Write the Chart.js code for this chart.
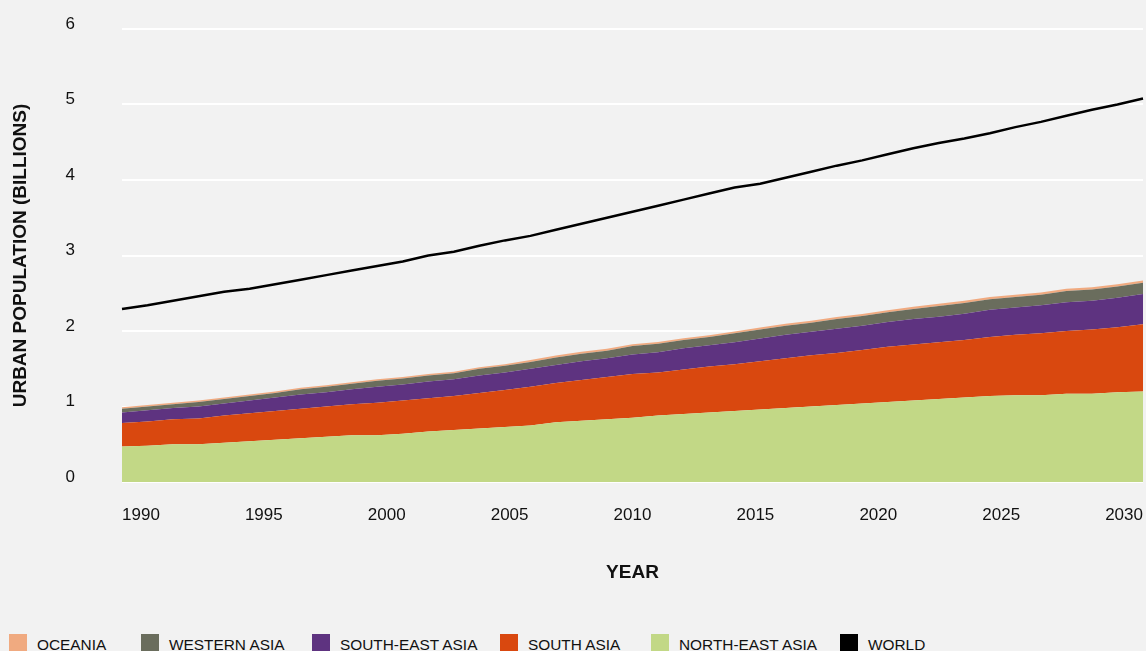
<!DOCTYPE html>
<html>
<head>
<meta charset="utf-8">
<script src="https://cdn.jsdelivr.net/npm/chart.js@4.4.1/dist/chart.umd.min.js"></script>
<style>
html,body{margin:0;padding:0;background:#f2f2f2;width:1146px;height:651px;overflow:hidden;font-family:"Liberation Sans",Arial,Helvetica,sans-serif;}
#wrap{position:absolute;left:0;top:0;width:1146px;height:600px;}
#legend{position:absolute;left:0;top:634px;width:1146px;height:30px;}
.item{position:absolute;top:0;display:flex;align-items:flex-start;white-space:nowrap;}
.box{width:18px;height:18px;margin-right:10px;flex:none;}
.lbl{font-size:15.4px;line-height:18px;padding-top:2px;color:#111;}
</style>
</head>
<body>
<div id="wrap"><canvas id="c" width="1146" height="600"></canvas></div>
<div id="legend"></div>
<script>
// ---- data ----
const years = [1990,1991,1992,1993,1994,1995,1996,1997,1998,1999,
               2000,2001,2002,2003,2004,2005,2006,2007,2008,2009,
               2010,2011,2012,2013,2014,2015,2016,2017,2018,2019,
               2020,2021,2022,2023,2024,2025,2026,2027,2028,2029,2030];
const xTickLabels = [1990,1995,2000,2005,2010,2015,2020,2025,2030];
const yTickValues = [0,1,2,3,4,5,6];

const northEastAsia = [0.47,0.48,0.50,0.50,0.52,0.54,0.56,0.58,0.60,0.62,
                       0.62,0.64,0.67,0.69,0.71,0.73,0.75,0.79,0.81,0.83,
                       0.85,0.88,0.90,0.92,0.94,0.96,0.98,1.00,1.02,1.04,
                       1.06,1.08,1.10,1.12,1.14,1.15,1.15,1.17,1.17,1.19,1.20];
const southAsia = [0.31,0.32,0.33,0.34,0.36,0.37,0.38,0.39,0.40,0.41,
                   0.43,0.44,0.44,0.45,0.47,0.49,0.51,0.52,0.54,0.56,
                   0.58,0.57,0.59,0.61,0.62,0.64,0.66,0.68,0.69,0.71,
                   0.73,0.74,0.75,0.76,0.78,0.80,0.82,0.83,0.85,0.86,0.89];
const southEastAsia = [0.14,0.15,0.15,0.16,0.16,0.17,0.18,0.19,0.19,0.20,
                       0.21,0.21,0.22,0.22,0.23,0.23,0.24,0.24,0.25,0.25,
                       0.26,0.27,0.28,0.28,0.29,0.30,0.31,0.31,0.32,0.32,
                       0.33,0.34,0.34,0.35,0.36,0.36,0.37,0.38,0.38,0.39,0.40];
const westernAsia = [0.05,0.05,0.05,0.06,0.06,0.06,0.06,0.07,0.07,0.07,
                     0.08,0.08,0.08,0.08,0.09,0.09,0.09,0.10,0.10,0.10,
                     0.11,0.11,0.11,0.11,0.12,0.12,0.12,0.12,0.13,0.13,
                     0.13,0.13,0.14,0.14,0.14,0.14,0.14,0.15,0.15,0.15,0.15];
const oceania = [0.02,0.02,0.02,0.02,0.02,0.02,0.02,0.02,0.02,0.02,
                 0.02,0.02,0.02,0.02,0.02,0.02,0.025,0.025,0.025,0.025,
                 0.025,0.025,0.025,0.025,0.025,0.025,0.025,0.025,0.025,0.025,
                 0.025,0.03,0.03,0.03,0.03,0.03,0.03,0.03,0.03,0.03,0.03];
const world = [2.29,2.34,2.40,2.46,2.52,2.56,2.62,2.68,2.74,2.80,
               2.86,2.92,3.00,3.05,3.13,3.20,3.26,3.34,3.42,3.50,
               3.58,3.66,3.74,3.82,3.90,3.95,4.03,4.11,4.19,4.26,
               4.34,4.42,4.49,4.55,4.62,4.70,4.77,4.85,4.93,5.00,5.08];

// ---- styles ----
const FONT = '"Liberation Sans", Arial, Helvetica, sans-serif';
const COLORS = {
  oceania:'#f0aa80', westernAsia:'#6a6d5d', southEastAsia:'#5e3380',
  southAsia:'#d9480f', northEastAsia:'#c2d886', world:'#000000'
};
const legendOrder = ['OCEANIA','WESTERN ASIA','SOUTH-EAST ASIA','SOUTH ASIA','NORTH-EAST ASIA','WORLD'];
const legendLeft = [9,141,312,500,651,840];

function area(label, data, color, fill){
  return {label, data, backgroundColor:color, borderColor:color, borderWidth:0,
          fill, pointRadius:0, tension:0, stack:'regions'};
}

const datasets = [
  area('NORTH-EAST ASIA', northEastAsia, COLORS.northEastAsia, 'origin'),
  area('SOUTH ASIA', southAsia, COLORS.southAsia, '-1'),
  area('SOUTH-EAST ASIA', southEastAsia, COLORS.southEastAsia, '-1'),
  area('WESTERN ASIA', westernAsia, COLORS.westernAsia, '-1'),
  area('OCEANIA', oceania, COLORS.oceania, '-1'),
  {label:'WORLD', data:world, borderColor:COLORS.world, backgroundColor:COLORS.world,
   borderWidth:2.5, fill:false, pointRadius:0, tension:0, stack:'world'}
];

const chart = new Chart(document.getElementById('c'), {
  type:'line',
  data:{labels:years, datasets},
  options:{
    responsive:false, animation:false, devicePixelRatio:1,
    layout:{padding:{top:29,right:3,bottom:0,left:0}},
    plugins:{legend:{display:false}, tooltip:{enabled:false}},
    scales:{
      x:{type:'category', display:false, offset:false},
      x2:{type:'linear', position:'bottom', min:1989.23, max:2030.77,
          afterBuildTicks:s=>{ s.ticks = xTickLabels.map(v=>({value:v})); },
          grid:{display:false, drawTicks:false}, border:{display:false},
          ticks:{padding:23, color:'#111', font:{family:FONT,size:17}, maxRotation:0, autoSkip:false,
                 callback:v=>String(v)},
          title:{display:true, text:'YEAR', color:'#111', font:{family:FONT,size:19,weight:'bold'},
                 padding:{top:0,bottom:16}},
          afterFit:s=>{ s.height = 118; s.paddingLeft = 0; s.paddingRight = 0; }},
      y:{stacked:true, min:0, max:6,
         afterBuildTicks:s=>{ s.ticks = yTickValues.map(v=>({value:v})); },
         grid:{color:'#ffffff', lineWidth:2, drawTicks:false}, border:{display:false},
         ticks:{padding:47, labelOffset:-5, color:'#111', font:{family:FONT,size:17}},
         title:{display:true, text:'URBAN POPULATION (BILLIONS)', color:'#111',
                font:{family:FONT,size:19,weight:'bold'}, padding:{top:9,bottom:0}},
         afterFit:s=>{ s.width = 122; s.paddingTop = 0; s.paddingBottom = 0; }}
    }
  }
});

// HTML legend built from the chart's datasets
const legend = document.getElementById('legend');
legendOrder.forEach((name,i)=>{
  const ds = chart.data.datasets.find(d=>d.label===name);
  const item = document.createElement('div');
  item.className='item'; item.style.left = legendLeft[i]+'px';
  const b = document.createElement('div'); b.className='box'; b.style.background = ds.borderColor;
  const t = document.createElement('div'); t.className='lbl'; t.textContent = name;
  item.appendChild(b); item.appendChild(t); legend.appendChild(item);
});
</script>
</body>
</html>
